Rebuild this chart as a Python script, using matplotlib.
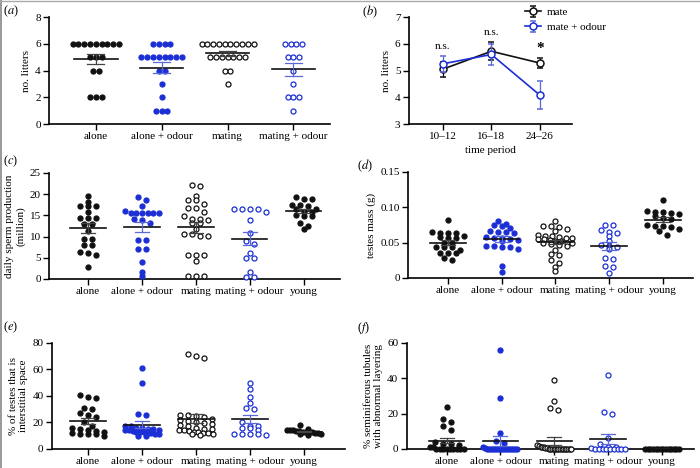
import numpy as np
import matplotlib
matplotlib.use('Agg')
import matplotlib.pyplot as plt
from matplotlib.lines import Line2D

plt.rcParams['font.family'] = ['Liberation Serif', 'DejaVu Serif']
plt.rcParams['mathtext.fontset'] = 'stix'

BLACK = '#111111'
BLUE = '#1c2fd4'

groups4 = ['alone', 'alone + odour', 'mating', 'mating + odour']
groups5 = groups4 + ['young']
group_colors = [BLACK, BLUE, BLACK, BLUE, BLACK]
group_filled = [True, True, False, False, True]

# (a) number of litters
litters_alone = [6]*9 + [5]*3 + [4]*2 + [2]*3
litters_alone_odour = [6]*4 + [5]*8 + [4]*2 + [3, 2] + [1]*3
litters_mating = [6]*10 + [5]*7 + [4]*2 + [3]
litters_mating_odour = [6]*4 + [5]*3 + [4, 3] + [2]*3 + [1]

# (b) litters per time period (mean, sem)
periods = ['10–12', '16–18', '24–26']
mate_mean = [5.05, 5.72, 5.28]
mate_sem = [0.28, 0.33, 0.2]
odour_mean = [5.25, 5.6, 4.08]
odour_sem = [0.3, 0.38, 0.52]
signif = ['n.s.', 'n.s.', '*']
signif_y = [5.9, 6.44, 5.82]

# (c) daily sperm production (million)
dsp_alone = [19.6, 18.2, 17.2, 17.1, 17.1, 15.8, 14.3, 14.3, 14.3, 13.0, 13.0,
             11.3, 9.3, 9.3, 8.0, 8.0, 6.2, 5.6, 6.3, 2.7]
dsp_alone_odour = [19.4, 18.5, 17.2, 16.0, 15.5, 15.5, 15.5, 15.5, 15.5, 15.5,
                   14.1, 13.3, 9.2, 9.2, 7.1, 7.1, 3.9, 1.7, 0.7, 13.9]
dsp_mating = [22.2, 21.9, 19.6, 18.5, 18.5, 17.6, 16.7, 16.7, 15.8, 14.9, 14.1,
              14.1, 14.0, 13.2, 13.2, 11.8, 10.2, 10.5, 10.2, 10.5, 5.7, 5.7,
              5.7, 4.3, 0.6, 0.8, 0.8]
dsp_mating_odour = [16.6, 16.6, 16.6, 16.6, 15.7, 13.9, 10.8, 9.0, 8.3, 6.1,
                    5.0, 5.0, 1.7, 0.4, 0.4]
dsp_young = [19.4, 18.9, 18.9, 17.4, 17.4, 17.2, 16.6, 16.4, 15.9, 15.9, 15.0,
             14.9, 14.9, 13.2, 12.4, 11.7]

# (d) testes mass (g)
mass_alone = [0.082, 0.065, 0.063, 0.060, 0.063, 0.064, 0.057, 0.058, 0.057,
              0.049, 0.050, 0.044, 0.044, 0.044, 0.040, 0.036, 0.035, 0.036,
              0.028, 0.026]
mass_alone_odour = [0.081, 0.077, 0.075, 0.074, 0.071, 0.066, 0.065, 0.065,
                    0.064, 0.058, 0.057, 0.057, 0.055, 0.054, 0.052, 0.045,
                    0.045, 0.044, 0.044, 0.041, 0.017, 0.009]
mass_mating = [0.081, 0.074, 0.073, 0.072, 0.070, 0.067, 0.061, 0.060, 0.059,
               0.058, 0.057, 0.056, 0.055, 0.055, 0.054, 0.053, 0.052, 0.050,
               0.050, 0.049, 0.048, 0.047, 0.045, 0.040, 0.034, 0.033, 0.025,
               0.021, 0.016, 0.010]
mass_mating_odour = [0.075, 0.075, 0.068, 0.065, 0.063, 0.059, 0.053, 0.047,
                     0.045, 0.044, 0.041, 0.028, 0.027, 0.017, 0.015, 0.007]
mass_young = [0.110, 0.095, 0.094, 0.094, 0.092, 0.091, 0.088, 0.085, 0.084,
              0.075, 0.074, 0.073, 0.072, 0.070, 0.066, 0.061]

# (e) % interstitial space
inter_alone = [40.5, 39.5, 38.5, 31, 30.5, 27, 26, 24, 20, 17, 16, 15, 14, 13.5,
               13, 12, 11.5, 11, 11, 9.5]
inter_alone_odour = [61.5, 49.5, 26.5, 25.5, 17.5, 17, 16, 15.5, 15, 15, 14.5,
                     14, 14, 13.5, 13, 13, 12.5, 12, 12, 11.5, 11, 10, 9.5]
inter_mating = [72, 70.5, 69, 26, 25.5, 25, 24, 23, 22, 21, 20, 19.5, 19, 18,
                17, 16, 15, 15, 14.5, 14, 13.5, 13, 12.5, 12, 12, 11.5, 11, 10.5]
inter_mating_odour = [49.5, 45, 39.5, 34.5, 31, 30, 20, 17.5, 17, 16, 15.5,
                      14.5, 11.5, 11, 11, 11, 10.5]
inter_young = [18, 15, 14.5, 14, 14, 13.5, 13.5, 13, 13, 12.5, 12.5, 12, 12,
               11.5, 11, 10.5]

# (f) % abnormal layering
layer_alone = [24, 17, 15.5, 13, 11, 4, 3, 3, 2.5, 1, 1] + [0]*9
layer_alone_odour = [56, 29, 9, 4.5, 3.5, 1, 0.5] + [0]*16
layer_mating = [39, 27, 23, 22, 2, 1.5, 1, 1, 1, 0.5, 0.5] + [0]*15
layer_mating_odour = [42, 21, 20, 6, 3, 1, 1, 0.5] + [0]*9
layer_young = [0]*14

FS = 8


def style_axis(ax):
    for s in ['top', 'right']:
        ax.spines[s].set_visible(False)
    for s in ['left', 'bottom']:
        ax.spines[s].set_linewidth(1.2)
    ax.tick_params(direction='out', length=4, width=1, labelsize=FS, pad=2)


def row_layout(ax, values, d_px, max_w):
    # group points in rows by pixel height and spread each row sideways
    vals = np.asarray(values, float)
    ypx = ax.transData.transform(np.column_stack([np.zeros_like(vals), vals]))[:, 1]
    px_unit = ax.transData.transform([[1, 0]])[0, 0] - ax.transData.transform([[0, 0]])[0, 0]
    order = np.argsort(-vals, kind='stable')
    rows, cur = [], [order[0]]
    for i in order[1:]:
        if abs(ypx[cur[0]] - ypx[i]) < 4:
            cur.append(i)
        else:
            rows.append(cur)
            cur = [i]
    rows.append(cur)
    offs = np.zeros_like(vals)
    for r in rows:
        n = len(r)
        if n == 1:
            continue
        step = min(d_px, max_w / (n - 1))
        pos = (np.arange(n) - (n - 1) / 2) * step
        offs[r] = pos / px_unit
    return offs


def dot_panel(ax, data, names, d_px, max_w, ylim, yticks, ylabels, ylabel):
    n = len(data)
    style_axis(ax)
    ax.set_ylim(*ylim)
    ax.set_yticks(yticks)
    ax.set_yticklabels(ylabels)
    ax.set_xticks(range(n))
    ax.set_xticklabels(names)
    ax.set_ylabel(ylabel, fontsize=FS, labelpad=3)
    for k, vals in enumerate(data):
        offs = row_layout(ax, vals, d_px, max_w)
        col = group_colors[k]
        fc = col if group_filled[k] else 'white'
        ax.scatter(k + offs, vals, s=13, facecolor=fc, edgecolor=col,
                   linewidth=0.9, zorder=3, clip_on=False)
        v = np.asarray(vals, float)
        m = v.mean()
        sem = v.std(ddof=1) / np.sqrt(len(v))
        ax.plot([k - 0.33, k + 0.33], [m, m], color=BLACK, lw=1.2, zorder=4)
        ecol = '#5a68d8' if col == BLUE else '#444444'
        ax.plot([k, k], [m - sem, m + sem], color=ecol, lw=0.9, zorder=4)
        for e in (m - sem, m + sem):
            ax.plot([k - 0.13, k + 0.13], [e, e], color=ecol, lw=0.9, zorder=4)


fig = plt.figure(figsize=(7, 4.68), dpi=100)

ax_a = fig.add_axes([0.07, 0.735, 0.401, 0.2286])
ax_a.set_xlim(-0.71, 3.55)
dot_panel(ax_a, [litters_alone, litters_alone_odour, litters_mating, litters_mating_odour],
          groups4, 5.8, 52, (0, 8), [0, 2, 4, 6, 8], ['0', '2', '4', '6', '8'], 'no. litters')

ax_b = fig.add_axes([0.584, 0.735, 0.233, 0.2286])
style_axis(ax_b)
xb = np.arange(len(periods))
ax_b.errorbar(xb, mate_mean, yerr=mate_sem, color=BLACK, lw=1.2, marker='o', ms=5,
              mfc='white', mec=BLACK, mew=1.1, capsize=2.5, elinewidth=0.9,
              label='mate', zorder=3)
ax_b.errorbar(xb, odour_mean, yerr=odour_sem, color=BLUE, lw=1.2, marker='o', ms=5,
              mfc='white', mec=BLUE, mew=1.1, capsize=2.5, elinewidth=0.9,
              ecolor='#5a68d8', label='mate + odour', zorder=4)
for i, (t, y) in enumerate(zip(signif, signif_y)):
    ax_b.text(i, y, t, ha='center', va='center',
              fontsize=11 if t == '*' else FS, fontweight='bold' if t == '*' else 'normal')
ax_b.set_xlim(-0.7, 2.66)
ax_b.set_ylim(3, 7)
ax_b.set_yticks([3, 4, 5, 6, 7])
ax_b.set_xticks(xb)
ax_b.set_xticklabels(periods)
ax_b.set_ylabel('no. litters', fontsize=FS, labelpad=3)
ax_b.set_xlabel('time period', fontsize=FS, labelpad=3)
ax_b.legend(loc='upper left', bbox_to_anchor=(0.71, 1.09), frameon=False,
            fontsize=FS, handlelength=1.5, handletextpad=0.5, labelspacing=0.45,
            borderpad=0, borderaxespad=0)

ax_c = fig.add_axes([0.07, 0.404, 0.416, 0.2265])
ax_c.set_xlim(-0.725, 4.68)
dot_panel(ax_c, [dsp_alone, dsp_alone_odour, dsp_mating, dsp_mating_odour, dsp_young],
          groups5, 8, 34, (0, 25), [0, 5, 10, 15, 20, 25],
          ['0', '5', '10', '15', '20', '25'], 'daily sperm production\n(million)')

ax_d = fig.add_axes([0.583, 0.406, 0.407, 0.2265])
ax_d.set_xlim(-0.74, 4.56)
dot_panel(ax_d, [mass_alone, mass_alone_odour, mass_mating, mass_mating_odour, mass_young],
          groups5, 8, 34, (0, 0.15), [0, 0.05, 0.10, 0.15],
          ['0', '0.05', '0.10', '0.15'], 'testes mass (g)')

ax_e = fig.add_axes([0.074, 0.0406, 0.419, 0.2265])
ax_e.set_xlim(-0.67, 4.76)
dot_panel(ax_e, [inter_alone, inter_alone_odour, inter_mating, inter_mating_odour, inter_young],
          groups5, 8, 34, (0, 80), [0, 20, 40, 60, 80],
          ['0', '20', '40', '60', '80'], '% of testes that is\ninterstitial space')

ax_f = fig.add_axes([0.581, 0.0406, 0.411, 0.2265])
ax_f.set_xlim(-0.74, 4.6)
dot_panel(ax_f, [layer_alone, layer_alone_odour, layer_mating, layer_mating_odour, layer_young],
          groups5, 8, 34, (0, 60), [0, 20, 40, 60],
          ['0', '20', '40', '60'], '% seminiferous tubules\nwith abnormal layering')

# panel letters
for lab, x, y in [('a', 0.004, 0.975), ('b', 0.517, 0.975), ('c', 0.004, 0.655),
                  ('d', 0.51, 0.645), ('e', 0.004, 0.3), ('f', 0.51, 0.3)]:
    fig.text(x, y, '($\\it{%s}$)' % lab, fontsize=9, va='center', ha='left')

# thin grey frame remains at left/top edge of the source picture
fig.add_artist(Line2D([0.0015, 0.0015], [0, 1], color='#888888', lw=1.2))
fig.add_artist(Line2D([0, 1], [0.998, 0.998], color='#aaaaaa', lw=1.0))

fig.savefig('out.png', dpi=100)
